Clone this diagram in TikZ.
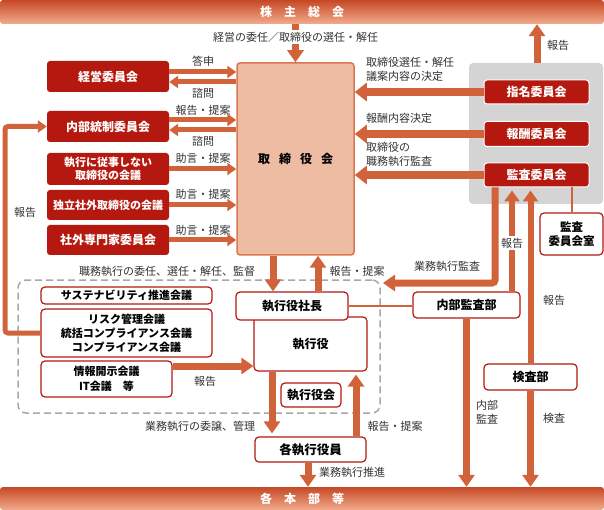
\documentclass[tikz,border=0pt]{standalone}
\usepackage{fontspec}
\setmainfont{Noto Sans CJK JP}
\usetikzlibrary{arrows.meta}
\definecolor{orng}{HTML}{D1623A}
\definecolor{dred}{HTML}{B5180E}
\definecolor{bfill}{HTML}{EDBCA3}
\definecolor{bdraw}{HTML}{DB7652}
\definecolor{gpanel}{HTML}{D4D4D4}
\definecolor{dgray}{HTML}{A8A8A8}
\definecolor{bartop}{HTML}{C64826}
\definecolor{barbot}{HTML}{F2AC8C}
\definecolor{txt}{HTML}{333333}
\begin{document}
\begin{tikzpicture}[x=1pt,y=-1pt,
 redbox/.style={fill=dred, text=white, rounded corners=3pt, inner sep=0pt, font=\fontsize{12}{14}\selectfont\bfseries, align=center},
 cmtbox/.style={redbox, draw=white, line width=1pt},
 wbox/.style={fill=white, draw=dred, line width=1.2pt, rounded corners=4pt, inner sep=0pt, font=\fontsize{11.5}{14}\selectfont\bfseries, align=center, text=black},
 lbl/.style={font=\fontsize{11}{14}\selectfont, text=txt, inner sep=1pt, align=left},
 bigarr/.style={draw=orng, line width=7pt, -{Triangle[width=16pt,length=12pt]}},
 wideparr/.style={draw=orng, line width=8pt, -{Triangle[width=18pt,length=12pt]}},
 narrarr/.style={draw=orng, line width=6pt, -{Triangle[width=15pt,length=11pt]}},
 midarr/.style={draw=orng, line width=5pt, -{Triangle[width=12pt,length=9pt]}},
 thinconn/.style={draw=orng, line width=2pt},
 barnode/.style={top color=bartop, bottom color=barbot, rounded corners=3pt, inner sep=0pt, minimum width=604pt, text=white, font=\fontsize{12}{14}\selectfont\bfseries},
]
\useasboundingbox (0,0) rectangle (604,510);
\fill[white] (0,0) rectangle (604,510);

% bars
\node[barnode, minimum height=24pt] (ags) at (302,12) {株\hspace{12pt}主\hspace{12pt}総\hspace{12pt}会};
\node[barnode, minimum height=23pt] (kakubu) at (302,498.5) {各\hspace{12pt}本\hspace{12pt}部\hspace{12pt}等};

% board
\node[fill=bfill, draw=bdraw, line width=1.5pt, rounded corners=3pt, minimum width=117pt, minimum height=192pt, inner sep=0pt, font=\fontsize{12}{14}\selectfont\bfseries] (board) at (295.5,159) {取\hspace{9pt}締\hspace{9pt}役\hspace{9pt}会};

\draw[bigarr] (ags.south -| board.north) -- (board.north);
\node[lbl, fill=white, inner sep=2pt] (lgm) at (295.5,37) {経営の委任／取締役の選任・解任};

% left committees
\node[redbox, minimum width=122pt, minimum height=31pt] (keiei) at (108,76.5) {経営委員会};
\node[redbox, minimum width=122pt, minimum height=31pt] (naibu) at (108,126.5) {内部統制委員会};
\node[redbox, minimum width=122pt, minimum height=32pt, font=\fontsize{11}{13}\selectfont\bfseries] (hishikko) at (108,169) {執行に従事しない\\取締役の会議};
\node[redbox, minimum width=122pt, minimum height=30pt, font=\fontsize{11}{13}\selectfont\bfseries] (dokuritsu) at (108,205) {独立社外取締役の会議};
\node[redbox, minimum width=122pt, minimum height=30pt] (shagai) at (108,240) {社外専門家委員会};

\draw[midarr] ([yshift=4.5pt]keiei.east) -- ([yshift=4.5pt]keiei.east -| board.west);
\draw[midarr] ([yshift=-5.5pt]keiei.east -| board.west) -- ([yshift=-5.5pt]keiei.east);
\draw[midarr] ([yshift=6.5pt]naibu.east) -- ([yshift=6.5pt]naibu.east -| board.west);
\draw[midarr] ([yshift=-3.5pt]naibu.east -| board.west) -- ([yshift=-3.5pt]naibu.east);
\draw[midarr] (hishikko.east) -- (hishikko.east -| board.west);
\draw[midarr] (dokuritsu.east) -- (dokuritsu.east -| board.west);
\draw[midarr] (shagai.east) -- (shagai.east -| board.west);

\node[lbl] (l1) at (203,61) {答申};
\node[lbl] (l2) at (203,93) {諮問};
\node[lbl] (l3) at (203,110) {報告・提案};
\node[lbl] (l4) at (203,141) {諮問};
\node[lbl] (l5) at (203,158) {助言・提案};
\node[lbl] (l6) at (203,194) {助言・提案};
\node[lbl] (l7) at (203,230) {助言・提案};

% right panel
\node[fill=gpanel, rounded corners=4pt, minimum width=134pt, minimum height=141pt, inner sep=0pt] (panel) at (536,133.5) {};
\node[cmtbox, minimum width=105pt, minimum height=24pt] (shimei) at (536.5,92) {指名委員会};
\node[cmtbox, minimum width=105pt, minimum height=25pt] (hoshu) at (536.5,134) {報酬委員会};
\node[cmtbox, minimum width=105pt, minimum height=24pt] (kansa) at (536.5,175) {監査委員会};

\draw[wideparr] (shimei.west) -- (shimei.west -| board.east);
\draw[wideparr] (hoshu.west) -- (hoshu.west -| board.east);
\draw[wideparr] (kansa.west) -- (kansa.west -| board.east);
\node[lbl, anchor=west] (r1) at (365,69) {取締役選任・解任\\議案内容の決定};
\node[lbl, anchor=west] (r2) at (365,118) {報酬内容決定};
\node[lbl, anchor=west] (r3) at (365,154.5) {取締役の\\職務執行監査};

\draw[bigarr] ([xshift=1pt]panel.north) -- ([xshift=1pt]panel.north |- ags.south);
\node[lbl] (r4) at (558,45) {報告};

\node[wbox, minimum width=63pt, minimum height=42pt, font=\fontsize{11.5}{14}\selectfont\bfseries] (kansashitsu) at (571.5,234) {監査\\委員会室};
\draw[thinconn] (kansashitsu.north) -- (kansashitsu.north |- kansa.south);

% executive zone
\node[draw=dgray, dash pattern=on 7pt off 4pt, line width=1.5pt, rounded corners=8pt, minimum width=362pt, minimum height=133pt, inner sep=0pt] (zone) at (199,346.5) {};
\node[lbl] (z1) at (167,271) {職務執行の委任、選任・解任、監督};
\node[lbl] (z2) at (357,271) {報告・提案};

\node[wbox, minimum width=171pt, minimum height=17pt, font=\fontsize{11}{13}\selectfont\bfseries] (susta) at (126.5,295.5) {サステナビリティ推進会議};
\node[wbox, minimum width=171pt, minimum height=48pt, font=\fontsize{11}{14}\selectfont\bfseries] (risk) at (126.5,333) {リスク管理会議\\統括コンプライアンス会議\\コンプライアンス会議};
\node[wbox, minimum width=131pt, minimum height=36pt, font=\fontsize{11}{15}\selectfont\bfseries] (joho) at (106.5,379) {情報開示会議\\IT会議　等};

\node[wbox, minimum width=113pt, minimum height=54pt, font=\fontsize{12}{14}\selectfont\bfseries] (shikkoyaku) at (310.5,344) {執行役};
\node[wbox, minimum width=112pt, minimum height=28pt, font=\fontsize{12}{14}\selectfont\bfseries] (shacho) at (292,306) {執行役社長};
\node[wbox, minimum width=60pt, minimum height=24pt, font=\fontsize{12}{14}\selectfont\bfseries] (yakuinkai) at (311,395) {執行役会};
\node[wbox, minimum width=111pt, minimum height=25pt, font=\fontsize{12.5}{14}\selectfont\bfseries] (kakushikko) at (310.5,449.5) {各執行役員};

\draw[bigarr] ([xshift=-22.5pt]board.south) -- ([xshift=-22.5pt]board.south |- shacho.north);
\draw[bigarr] ([xshift=22.5pt]board.south |- shacho.north) -- ([xshift=22.5pt]board.south);

\draw[bigarr] ([yshift=13pt]joho.east) -- ([yshift=13pt]joho.east -| shikkoyaku.west);
\node[lbl] (z3) at (205,381) {報告};

\draw[bigarr, shorten >=3pt] ([xshift=-38.5pt]shikkoyaku.south) -- ([xshift=-38.5pt]shikkoyaku.south |- kakushikko.north);
\draw[bigarr, shorten >=3pt] ([xshift=45.5pt]shikkoyaku.south |- kakushikko.north) -- ([xshift=45.5pt]shikkoyaku.south);
\node[lbl] (z4) at (200,426) {業務執行の委譲、管理};
\node[lbl] (z5) at (395,426) {報告・提案};

\draw[bigarr] ([xshift=-2.5pt]kakushikko.south) -- ([xshift=-2.5pt]kakushikko.south |- kakubu.north);
\node[lbl, anchor=west] (z6) at (318,472) {業務執行推進};

% left loop
\draw[midarr, rounded corners=3pt] (risk.west) -- (5,333) -- (5,126.5) -- (naibu.west);
\node[lbl] (z7) at (25,212) {報告};

% audit side
\node[wbox, minimum width=107pt, minimum height=26pt, font=\fontsize{12}{14}\selectfont\bfseries] (naibukansa) at (466.5,305) {内部監査部};
\node[wbox, minimum width=93pt, minimum height=26pt, font=\fontsize{12}{14}\selectfont\bfseries] (kensabu) at (530.5,377) {検査部};
\draw[thinconn] (shacho.east) -- (shacho.east -| naibukansa.west);

\draw[bigarr] (naibukansa.south) -- (naibukansa.south |- kakubu.north);
\draw[bigarr] (kensabu.south) -- (kensabu.south |- kakubu.north);
\node[lbl] (a1) at (487,412) {内部\\監査};
\node[lbl] (a2) at (554,418) {検査};

\draw[narrarr, shorten >=3pt] ([xshift=45.5pt]naibukansa.north) -- ([xshift=45.5pt]naibukansa.north |- kansa.south);
\draw[narrarr, shorten >=3pt] (kensabu.north) -- (kensabu.north |- kansa.south);
\node[lbl, fill=white, inner sep=2pt] (a3) at (512,243) {報告};
\node[lbl] (a4) at (554,300) {報告};

\coordinate (gyomu) at (383,283);
\draw[bigarr, rounded corners=3pt] ([xshift=-41.5pt]kansa.south) |- (gyomu);
\node[lbl] (a5) at (447,266) {業務執行監査};
\end{tikzpicture}
\end{document}
